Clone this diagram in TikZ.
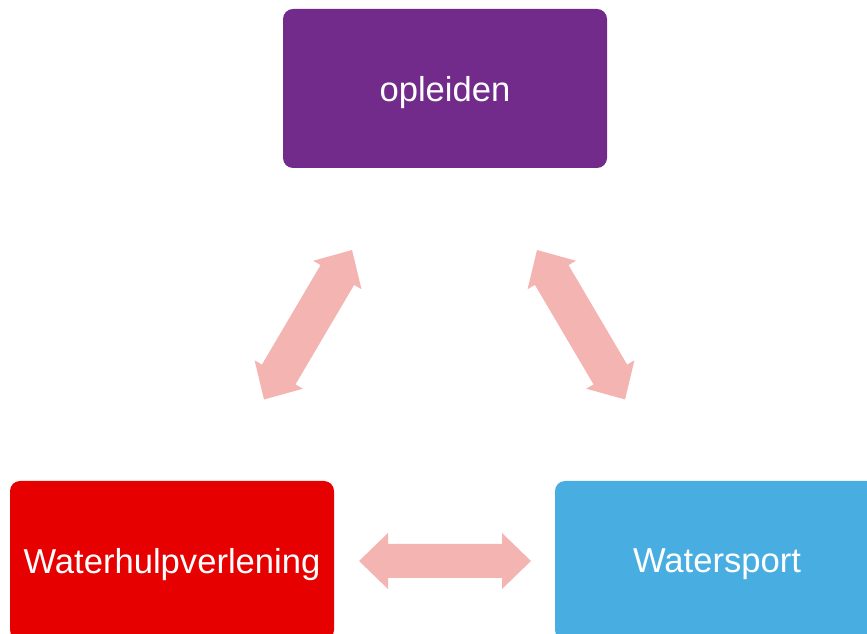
\documentclass[tikz,border=0pt]{standalone}
\usepackage{fontspec}
\setmainfont{Liberation Sans}
\definecolor{cpurple}{HTML}{722B8B}
\definecolor{cred}{HTML}{E60000}
\definecolor{cblue}{HTML}{48AEE2}
\definecolor{carrow}{HTML}{F4B4B1}
\newcommand{\lowtext}[1]{\raisebox{-4pt}[\height][\depth]{#1}}
\tikzset{
  box/.style={rectangle, rounded corners=10pt, minimum width=324pt, minimum height=159pt,
    inner sep=0pt, text=white, font=\fontsize{34.6}{40}\selectfont},
  blockarrow/.style={fill=carrow, draw=none}
}
% double block arrow: #1 start tip, #2 angle, #3 length, #4 shaft half width
\newcommand{\dblarrow}[4]{%
  \begin{scope}[shift={(#1)}, rotate=#2]
    \fill[blockarrow] (0,0) -- (29,28) -- (29,#4) -- (#3-29,#4) -- (#3-29,28) -- (#3,0)
      -- (#3-29,-28) -- (#3-29,-#4) -- (29,-#4) -- (29,-28) -- cycle;
  \end{scope}}
\begin{document}
\begin{tikzpicture}[x=1pt,y=1pt]
\useasboundingbox (0,0) rectangle (867,634);
\clip (0,0) rectangle (867,634);
\node[box, fill=cpurple] (opl) at (445,545.5) {\lowtext{opleiden}};
\node[box, fill=cred] (whv) at (172,73.5) {\lowtext{Waterhulpverlening}};
\node[box, fill=cblue] (ws) at (717,73.5) {\lowtext{Watersport}};
\coordinate (a1) at (264,234.5);
\coordinate (a2) at (537,384);
\coordinate (a3) at (359,73);
\dblarrow{a1}{59.5}{173.5}{19.5}
\dblarrow{a2}{-59.5}{173.5}{19.5}
\dblarrow{a3}{0}{172}{17}
\end{tikzpicture}
\end{document}
